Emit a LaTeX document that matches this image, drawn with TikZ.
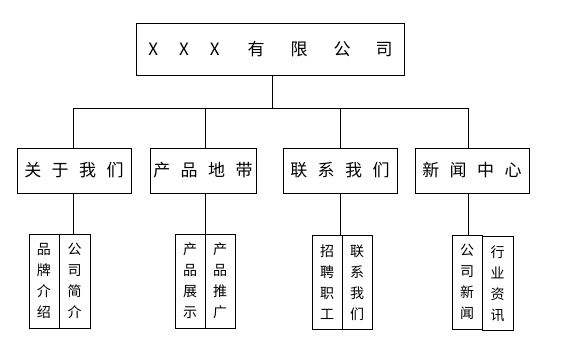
\documentclass[tikz,border=0pt]{standalone}
\usepackage{fontspec}
\setmainfont{Noto Sans CJK SC}
\begin{document}
\begin{tikzpicture}[x=1pt,y=-1pt,
  box/.style={draw,line width=0.8pt,inner sep=0pt},
  topbox/.style={box,minimum width=268pt,minimum height=52pt,font=\fontsize{17}{20}\selectfont},
  midbox/.style={box,minimum width=114pt,minimum height=45pt,font=\fontsize{17}{20}\selectfont},
  leafcol/.style={box,minimum width=30pt,minimum height=94pt,align=center,font=\fontsize{14}{21}\selectfont},
  link/.style={line width=0.8pt}]
\useasboundingbox[fill=white] (0,0) rectangle (574,360);
\newcommand{\gp}{\hspace{10.5pt}}
% top
\node[topbox] (top) at (270.5,49.5) {X\hspace{21pt}X\hspace{21pt}X\hspace{28pt}有\hspace{26pt}限\hspace{26pt}公\hspace{25pt}司};
% level 2
\node[midbox] (b1) at (74,170.5) {关\gp 于\gp 我\gp 们};
\node[midbox,minimum width=106pt] (b2) at (203,170.5) {产\gp 品\gp 地\gp 带};
\node[midbox] (b3) at (340,170.5) {联\gp 系\gp 我\gp 们};
\node[midbox] (b4) at (472,170.5) {新\gp 闻\gp 中\gp 心};
% level 3
\node[leafcol] (l1a) at (44,281) {品\\牌\\介\\绍};
\node[leafcol,minimum width=31pt] (l1b) at (74.5,281) {公\\司\\简\\介};
\node[leafcol] (l2a) at (190,281) {产\\品\\展\\示};
\node[leafcol] (l2b) at (220,281) {产\\品\\推\\广};
\node[leafcol] (l3a) at (327,282.5) {招\\聘\\职\\工};
\node[leafcol] (l3b) at (357,282.5) {联\\系\\我\\们};
\node[leafcol] (l4a) at (467,282) {公\\司\\新\\闻};
\node[leafcol,minimum width=31pt] (l4b) at (497.5,283.5) {行\\业\\资\\讯};
% stems
\coordinate (bus) at (272,108);
\coordinate (s1) at (73,108);
\coordinate (s2) at (205,108);
\coordinate (s3) at (340,108);
\coordinate (s4) at (468,108);
\draw[link] (top.south -| bus) -- (bus);
\draw[link] (s1) -- (s4);
\draw[link] (s1) -- (s1 |- b1.north);
\draw[link] (s2) -- (s2 |- b2.north);
\draw[link] (s3) -- (s3 |- b3.north);
\draw[link] (s4) -- (s4 |- b4.north);
\draw[link] (b1.south -| s1) -- (s1 |- l1b.north);
\draw[link] (b2.south -| s2) -- (s2 |- l2b.north);
\draw[link] (b3.south -| s3) -- (s3 |- l3a.north);
\draw[link] (b4.south -| s4) -- (s4 |- l4a.north);
\end{tikzpicture}
\end{document}
